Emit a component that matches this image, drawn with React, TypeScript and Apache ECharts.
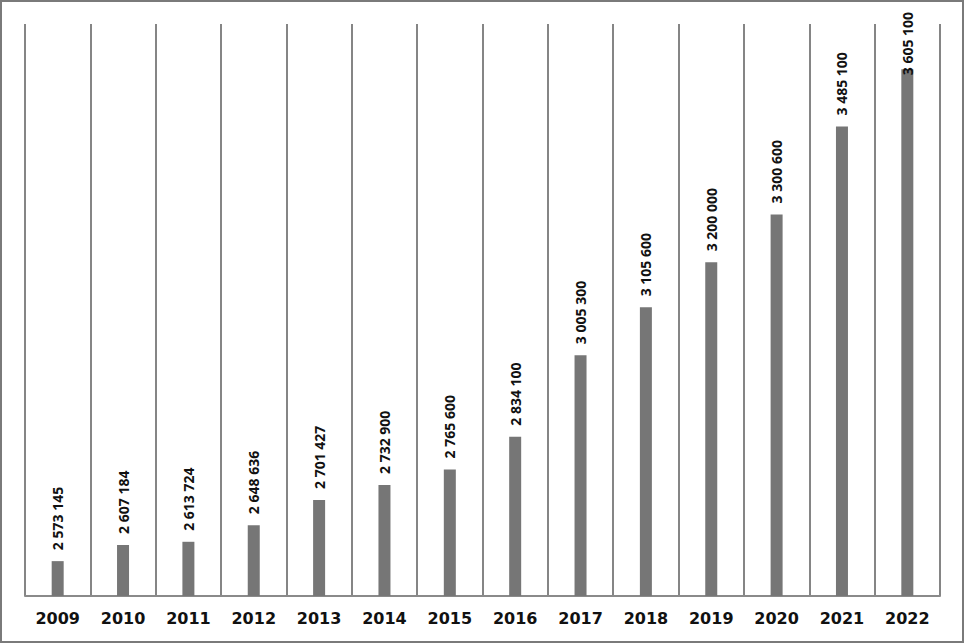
import React, { useEffect, useRef } from "react";
import * as echarts from "echarts";

const categories = ["2009", "2010", "2011", "2012", "2013", "2014", "2015", "2016", "2017", "2018", "2019", "2020", "2021", "2022"];
const values = [2573145, 2607184, 2613724, 2648636, 2701427, 2732900, 2765600, 2834100, 3005300, 3105600, 3200000, 3300600, 3485100, 3605100];
const axisMin = 2500000;
const axisMax = 3700000;

const fmt = (v: number) => String(v).replace(/\B(?=(\d{3})+(?!\d))/g, " ");

export default function App() {
  const ref = useRef<HTMLDivElement>(null);
  useEffect(() => {
    const chart = echarts.init(ref.current!, undefined, { renderer: "svg" });
    const data = values.map((v, i) =>
      i === values.length - 1 ? { value: v, label: { distance: -6 } } : { value: v }
    );
    chart.setOption({
      animation: false,
      backgroundColor: "#ffffff",
      graphic: [
        {
          type: "rect",
          shape: { x: 1, y: 1, width: 962, height: 641 },
          style: { fill: "none", stroke: "#7a7a7a", lineWidth: 2 },
          silent: true,
        },
      ],
      grid: { left: 25, right: 25, top: 24, bottom: 48 },
      xAxis: {
        type: "category",
        data: categories,
        boundaryGap: true,
        axisLine: { show: true, lineStyle: { color: "#8a8a8a", width: 2 } },
        axisTick: { show: false },
        splitLine: { show: true, interval: 0, lineStyle: { color: "#858585", width: 2 } },
        axisLabel: {
          interval: 0,
          margin: 14,
          color: "#111111",
          fontFamily: "DejaVu Sans",
          fontWeight: "bold",
          fontSize: 16,
        },
      },
      yAxis: {
        type: "value",
        min: axisMin,
        max: axisMax,
        show: false,
        splitLine: { show: false },
      },
      series: [
        {
          type: "bar",
          data,
          barWidth: 12,
          itemStyle: { color: "#767676" },
          label: {
            show: true,
            position: "top",
            rotate: 90,
            align: "left",
            verticalAlign: "middle",
            distance: 11,
            formatter: (p: any) => fmt(p.value),
            color: "#111111",
            fontFamily: "Open Sans",
            fontWeight: "bold",
            fontSize: 14,
          },
        },
      ],
    });
    return () => chart.dispose();
  }, []);
  return (
    <div
      ref={ref}
      style={{ position: "fixed", left: 0, top: 0, width: 965, height: 644 }}
    />
  );
}
